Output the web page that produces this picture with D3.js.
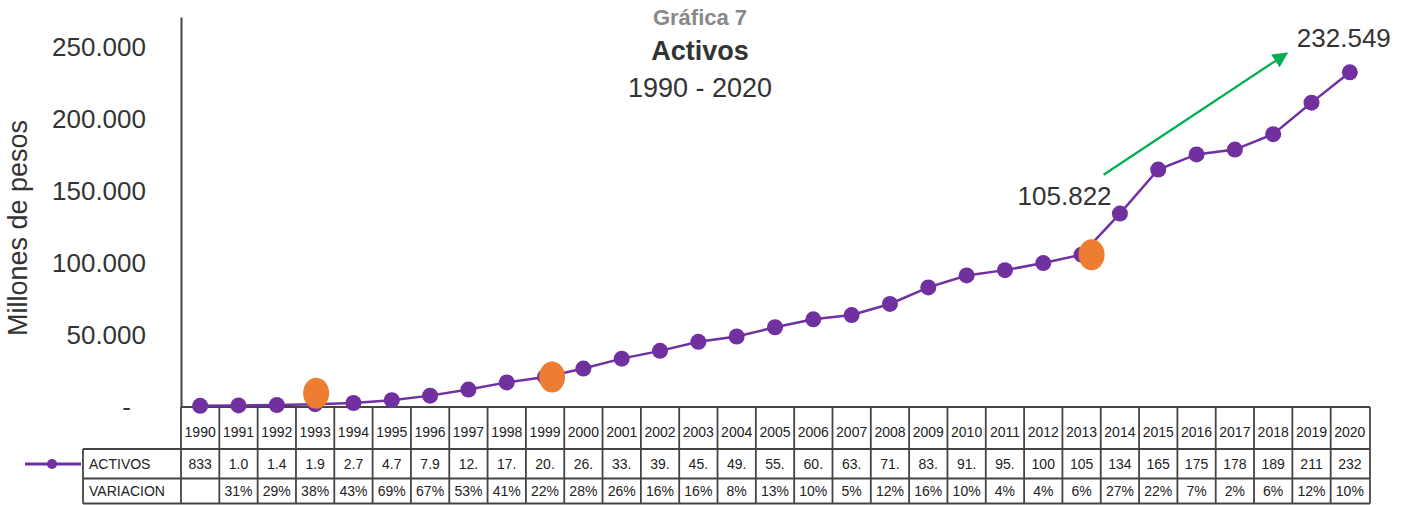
<!DOCTYPE html>
<html>
<head>
<meta charset="utf-8">
<script src="https://cdn.jsdelivr.net/npm/d3@7"></script>
<style>
  body { margin: 0; background: #fff; }
  text { font-family: "Liberation Sans", Arial, Helvetica, sans-serif; }
</style>
</head>
<body>
<div id="chart"></div>
<script>
// # Data (millones de pesos).
const years = ['1990','1991','1992','1993','1994','1995','1996','1997','1998','1999','2000',
    '2001','2002','2003','2004','2005','2006','2007','2008','2009','2010',
    '2011','2012','2013','2014','2015','2016','2017','2018','2019','2020']
const activos = [833, 1090, 1410, 1950, 2790, 4720, 7900, 12100, 17100, 20900, 26700,
    33600, 39000, 45300, 49000, 55400, 60900, 63900, 71600, 83100, 91400,
    95100, 100000, 105822, 134400, 165000, 175500, 178900, 189600, 211500, 232549]
// # Table cells as printed (truncated in the original).
const activosLabels = ['833','1.0','1.4','1.9','2.7','4.7','7.9','12.','17.','20.','26.',
    '33.','39.','45.','49.','55.','60.','63.','71.','83.','91.',
    '95.','100','105','134','165','175','178','189','211','232']
const variacion = ['','31%','29%','38%','43%','69%','67%','53%','41%','22%','28%',
    '26%','16%','16%','8%','13%','10%','5%','12%','16%','10%',
    '4%','4%','6%','27%','22%','7%','2%','6%','12%','10%']
const yTicks = [0, 50000, 100000, 150000, 200000, 250000]
const highlighted = ['1993', '1999', '2013']
const annotations = [{year: '2013', text: '105.822'}, {year: '2020', text: '232.549'}]

const W = 1405, H = 505
const purple = '#7030a0', orange = '#ed7d31', green = '#00b050', ink = '#333'

const svg = d3.select('#chart').append('svg')
    .attr('width', W).attr('height', H)

const x = d3.scaleBand().domain(years).range([181, 1369])
const y = d3.scaleLinear().domain([0, 271000]).range([407, 17])
const cx = d => x(d) + x.bandwidth() / 2

// # Title.
svg.append('text').attr('x', 700).attr('y', 25).attr('text-anchor', 'middle')
    .attr('font-size', 22).attr('font-weight', 'bold').attr('fill', '#888')
    .text('Gráfica 7')
svg.append('text').attr('x', 700).attr('y', 60).attr('text-anchor', 'middle')
    .attr('font-size', 27).attr('font-weight', 'bold').attr('fill', ink)
    .text('Activos')
svg.append('text').attr('x', 700).attr('y', 97).attr('text-anchor', 'middle')
    .attr('font-size', 27).attr('fill', ink)
    .text('1990 - 2020')

// # Y axis.
const fmt = d3.formatLocale({decimal: ',', thousands: '.', grouping: [3], currency: ['$', '']}).format(',d')
const yAxis = svg.append('g').attr('transform', 'translate(181,0)')
    .call(d3.axisLeft(y).tickValues(yTicks).tickSize(0).tickPadding(35)
        .tickFormat(d => d === 0 ? '-' : fmt(d)))
yAxis.select('.domain').attr('stroke', '#444').attr('stroke-width', 2)
yAxis.selectAll('text').attr('font-size', 26).attr('fill', ink)
    .style('font-family', '"Liberation Sans", Arial, sans-serif')
    .attr('dx', d => d === 0 ? -15 : 0)

svg.append('text')
    .attr('transform', 'translate(27,228) rotate(-90)')
    .attr('text-anchor', 'middle').attr('font-size', 27).attr('fill', ink)
    .text('Millones de pesos')

// # Data table.
const grid = svg.append('g').attr('stroke', '#444').attr('stroke-width', 1.8).attr('fill', 'none')
const rows = [407, 449, 478.5, 503.5]
grid.append('line').attr('x1', 181).attr('x2', 1370).attr('y1', rows[0]).attr('y2', rows[0])
rows.slice(1).forEach(r => grid.append('line').attr('x1', 83).attr('x2', 1370).attr('y1', r).attr('y2', r))
grid.append('line').attr('x1', 83).attr('x2', 83).attr('y1', rows[1]).attr('y2', rows[3])
years.forEach(d => grid.append('line').attr('x1', x(d)).attr('x2', x(d)).attr('y1', rows[0]).attr('y2', rows[3]))
grid.append('line').attr('x1', 1370).attr('x2', 1370).attr('y1', rows[0]).attr('y2', rows[3])

const cells = svg.append('g').attr('font-size', 14).attr('fill', '#222').attr('text-anchor', 'middle')
cells.selectAll('.yr').data(years).enter().append('text')
    .attr('x', cx).attr('y', 437).text(d => d)
cells.selectAll('.ac').data(years).enter().append('text')
    .attr('x', cx).attr('y', 469).text((d, i) => activosLabels[i])
cells.selectAll('.va').data(years).enter().append('text')
    .attr('x', cx).attr('y', 496).text((d, i) => variacion[i])
svg.append('text').attr('x', 89).attr('y', 469).attr('font-size', 14).attr('fill', '#222').text('ACTIVOS')
svg.append('text').attr('x', 89).attr('y', 496).attr('font-size', 14).attr('fill', '#222').text('VARIACION')

// # Legend key.
svg.append('line').attr('x1', 25).attr('x2', 81).attr('y1', 464).attr('y2', 464)
    .attr('stroke', purple).attr('stroke-width', 3)
svg.append('circle').attr('cx', 52).attr('cy', 464).attr('r', 5).attr('fill', purple)

// # Series.
const series = years.map((d, i) => ({year: d, value: activos[i]}))
svg.append('path').datum(series)
    .attr('fill', 'none').attr('stroke', purple).attr('stroke-width', 2.5)
    .attr('d', d3.line().x(d => cx(d.year)).y(d => y(d.value)))
svg.selectAll('.pt').data(series).enter().append('circle')
    .attr('cx', d => cx(d.year)).attr('cy', d => y(d.value)).attr('r', 8)
    .attr('fill', purple)

// # Orange highlights (hand-placed in the original, slightly off the points).
const hlShift = {'1993': [1, -11], '1999': [7, 0], '2013': [10, 0]}
svg.selectAll('.hl').data(series.filter(d => highlighted.includes(d.year))).enter()
    .append('ellipse')
    .attr('cx', d => cx(d.year) + hlShift[d.year][0])
    .attr('cy', d => y(d.value) + hlShift[d.year][1])
    .attr('rx', 13).attr('ry', 15.5).attr('fill', orange)

// # Annotations and growth arrow.
svg.append('defs').append('marker').attr('id', 'arrow')
    .attr('viewBox', '0 0 10 10').attr('refX', 9).attr('refY', 5)
    .attr('markerWidth', 7).attr('markerHeight', 7).attr('orient', 'auto')
    .append('path').attr('d', 'M0,0L10,5L0,10Z').attr('fill', green)
const a0 = series.find(d => d.year === annotations[0].year)
const a1 = series.find(d => d.year === annotations[1].year)
svg.append('line')
    .attr('x1', cx(a0.year) + 22).attr('y1', y(a0.value) - 80)
    .attr('x2', cx(a1.year) - 63).attr('y2', y(a1.value) - 19)
    .attr('stroke', green).attr('stroke-width', 2.2).attr('marker-end', 'url(#arrow)')
svg.append('text').attr('x', cx(a0.year) + 30).attr('y', y(a0.value) - 50)
    .attr('text-anchor', 'end').attr('font-size', 26).attr('fill', ink).text(annotations[0].text)
svg.append('text').attr('x', cx(a1.year) + 41).attr('y', y(a1.value) - 25)
    .attr('text-anchor', 'end').attr('font-size', 26).attr('fill', ink).text(annotations[1].text)
</script>
</body>
</html>
